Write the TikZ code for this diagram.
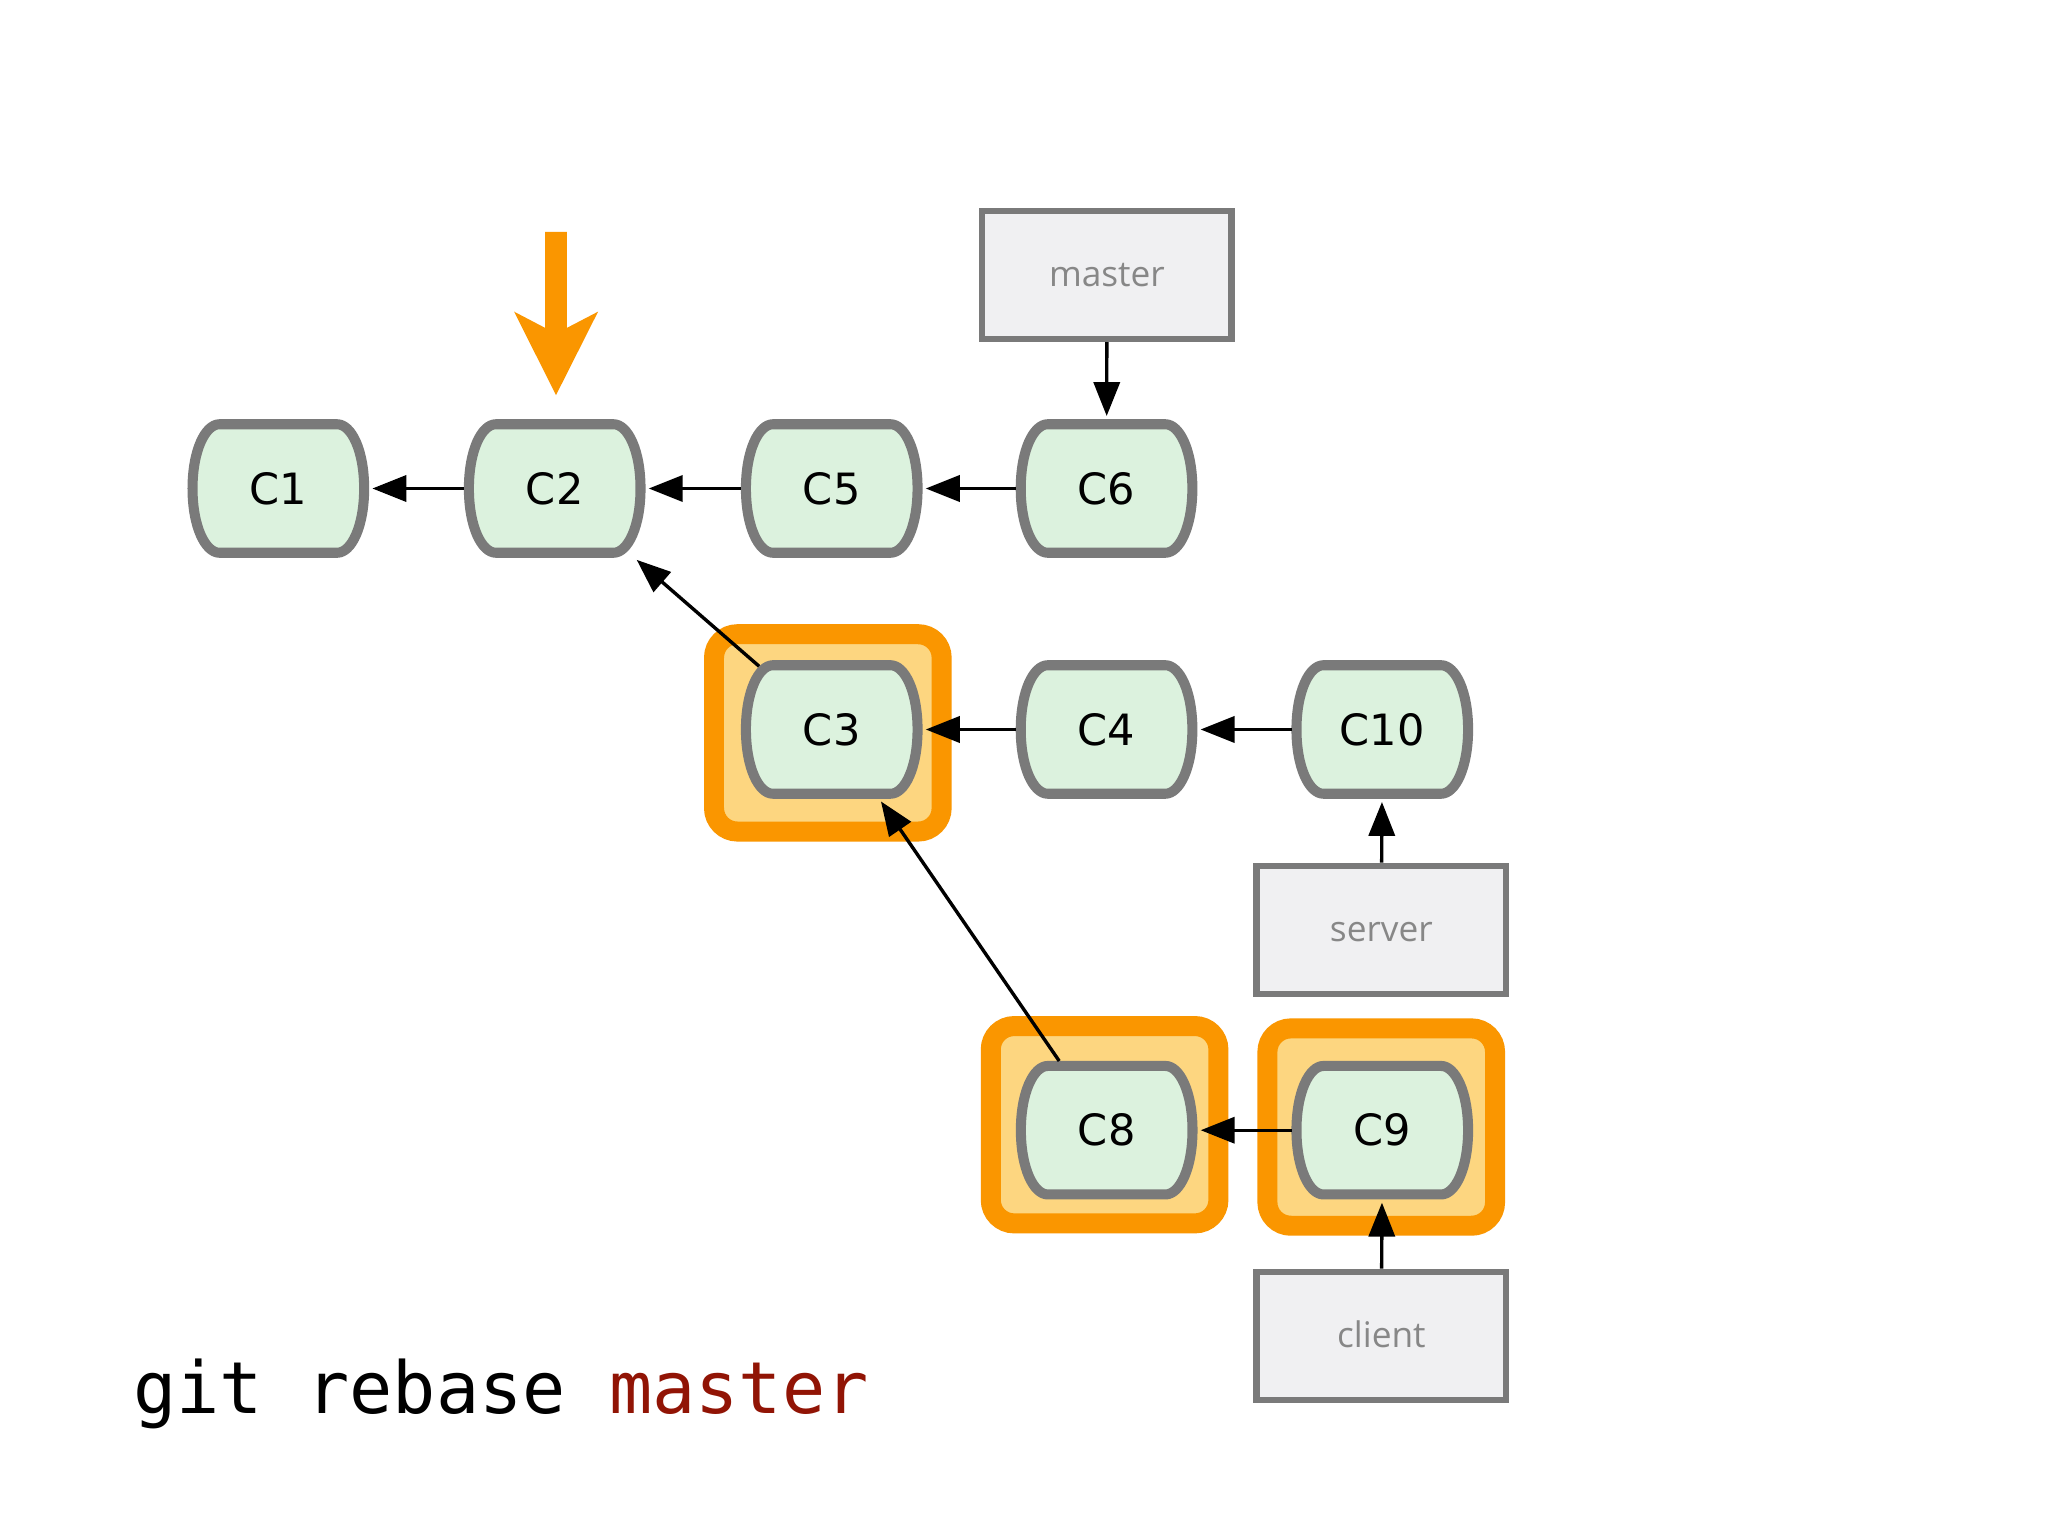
\documentclass[tikz,border=0pt]{standalone}
\usepackage{fontspec}
\usetikzlibrary{arrows.meta}
\newfontfamily\cfont{DejaVu Sans}
\newfontfamily\bfont{Open Sans}
\newfontfamily\mfont{DejaVu Sans Mono}
\definecolor{orangeA}{RGB}{250,150,0}
\definecolor{orangeB}{RGB}{253,214,128}
\definecolor{cfill}{RGB}{220,242,222}
\definecolor{gstroke}{RGB}{122,122,122}
\definecolor{bfill}{RGB}{240,240,242}
\definecolor{btext}{RGB}{135,135,135}
\definecolor{cmdred}{RGB}{145,20,5}
\tikzset{
  barrel/.style={draw=gstroke, fill=cfill, line width=7.7pt, line join=round},
  commit/.style={minimum width=139pt, minimum height=106pt, inner sep=0pt, outer sep=0pt,
    font={\cfont\fontsize{33pt}{40pt}\selectfont}, text=black},
  branch/.style={draw=gstroke, fill=bfill, line width=5pt, minimum width=191pt, minimum height=98pt,
    inner sep=0pt, text height=18pt, text depth=0pt,
    font={\bfont\fontsize{27pt}{30pt}\selectfont}, text=btext},
  conn/.style={line width=2.6pt, -{Triangle[length=26pt,width=20pt]}, shorten >=2.5pt},
  hl/.style={draw=orangeA, fill=orangeB, line width=15.3pt, rounded corners=18pt}
}
\newcommand\mkcommit[3]{%
  \begin{scope}[shift={(#2)}]
    \draw[barrel] (-45,-49.2) -- (45,-49.2)
      .. controls (56,-49.2) and (65.7,-29) .. (65.7,0)
      .. controls (65.7,29) and (56,49.2) .. (45,49.2)
      -- (-45,49.2)
      .. controls (-56,49.2) and (-65.7,29) .. (-65.7,0)
      .. controls (-65.7,-29) and (-56,-49.2) .. (-45,-49.2) -- cycle;
    \node[commit] (#1) at (0,0) {#3};
  \end{scope}}
\begin{document}
\begin{tikzpicture}[x=1pt,y=-1pt]
  \fill[white] (0,0) rectangle (1568,1176);
  \useasboundingbox (0,0) rectangle (1568,1176);
  % highlights
  \draw[hl] (546.65,485.55) rectangle (720.95,636.65);
  \draw[hl] (758.55,785.55) rectangle (932.85,936.65);
  \draw[hl] (970.35,787.35) rectangle (1144.65,938.45);
  % orange marker arrow
  \fill[orangeA] (417.3,177.6) -- (434.1,177.6) -- (434.1,251) -- (457.9,238.6)
    -- (425.7,302.5) -- (393.6,238.6) -- (417.3,251) -- cycle;
  % commits
  \mkcommit{c1}{213.1,374}{C1}
  \mkcommit{c2}{424.7,374}{C2}
  \mkcommit{c5}{636.8,374}{C5}
  \mkcommit{c6}{847.2,374}{C6}
  \mkcommit{c3}{636.8,558.5}{C3}
  \mkcommit{c4}{847.2,558.5}{C4}
  \mkcommit{c10}{1058.3,558.5}{C10}
  \mkcommit{c8}{847.3,865.3}{C8}
  \mkcommit{c9}{1058.3,865.3}{C9}
  % branches
  \node[branch] (master) at (847.5,210.5) {master};
  \node[branch] (server) at (1057.6,711.9) {server};
  \node[branch] (client) at (1057.6,1022.8) {client};
  % connectors
  \draw[conn] (c2) -- (c1);
  \draw[conn] (c5) -- (c2);
  \draw[conn] (c6) -- (c5);
  \draw[conn, shorten <=-7pt] (c3) -- (c2);
  \draw[conn] (c4) -- (c3);
  \draw[conn] (c10) -- (c4);
  \draw[conn] (c8) -- (c3);
  \draw[conn] (c9) -- (c8);
  \draw[conn] (master) -- (c6);
  \draw[conn] (server) -- (c10);
  \draw[conn] (client) -- (c9);
  % command
  \node[anchor=base west, inner sep=0pt, font={\mfont\fontsize{55pt}{60pt}\selectfont}] (cmd)
    at (102,1082) {git rebase \textcolor{cmdred}{master}};
\end{tikzpicture}
\end{document}
